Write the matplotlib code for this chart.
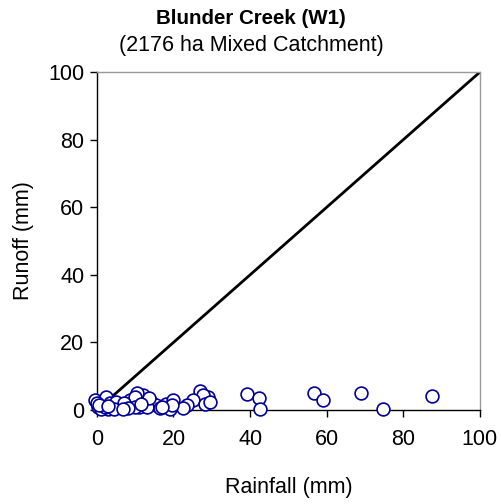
import matplotlib
matplotlib.use("Agg")
import matplotlib.pyplot as plt

plt.rcParams['font.family'] = ['Liberation Sans', 'DejaVu Sans']

rainfall = [87.5, 68.9, 74.6, 56.7, 59.0, 39.3, 42.3, 42.5,
            26.8, 29.0, 27.7, 25.0, 23.5, 28.2, 22.5, 29.5,
            12.0, 10.0, 14.0, 15.4, 18.0, 19.0, 20.0, 11.0, 10.5, 13.0, 16.5, 19.5, 17.0, 13.5,
            -0.5, 0.3, 1.6, 2.3, 2.9, 4.2, 5.5, 6.3, 7.6, 8.6, 9.9, 9.9, 0.0, 1.0, 3.5, 5.0, 7.0, 8.0, 4.5, 2.0, 6.8, 11.5, 0.5, 3.0]
runoff = [4.1, 5.0, 0.3, 5.0, 3.0, 4.7, 3.5, 0.3,
          5.5, 3.8, 4.4, 3.0, 1.5, 1.8, 0.5, 2.5,
          4.4, 2.4, 2.4, 1.5, 1.8, 0.3, 3.0, 0.9, 5.0, 1.0, 0.5, 1.5, 0.9, 3.5,
          3.0, 0.9, 2.4, 3.8, 0.3, 1.5, 0.9, 1.8, 0.9, 3.0, 3.8, 0.9, 2.0, 0.3, 2.0, 2.5, 2.0, 0.5, 0.3, 1.0, 0.3, 1.8, 1.5, 1.2]
line_x = [0, 100]
line_y = [0, 100]
ticks = [0, 20, 40, 60, 80, 100]

fig = plt.figure(figsize=(5.02, 5.04), dpi=100)
ax = fig.add_axes([0.193, 0.1865, 0.763, 0.6705])
ax.plot(line_x, line_y, color='black', lw=2, zorder=2)
ax.scatter(rainfall, runoff, s=85, facecolors='white', edgecolors='#000099', linewidths=1.2, zorder=3, clip_on=False)
ax.set_xlim(0, 100)
ax.set_ylim(0, 100)
ax.set_xticks(ticks)
ax.set_yticks(ticks)
ax.tick_params(direction='out', length=5, width=1, labelsize=15.5)
ax.tick_params(axis='x', pad=9)
ax.tick_params(axis='y', pad=4)
for s in ['left', 'bottom']:
    ax.spines[s].set_color('black')
    ax.spines[s].set_linewidth(1)
for s in ['top', 'right']:
    ax.spines[s].set_color('#999999')
    ax.spines[s].set_linewidth(1)
ax.set_xlabel('Rainfall (mm)', fontsize=15.5, labelpad=19)
ax.set_ylabel('Runoff (mm)', fontsize=15.5, labelpad=10)
fig.text(0.5, 0.964, 'Blunder Creek (W1)', ha='center', va='center', fontsize=14.8, fontweight='bold')
fig.text(0.5, 0.909, '(2176 ha Mixed Catchment)', ha='center', va='center', fontsize=15.5)
fig.savefig('out.png', dpi=100)
